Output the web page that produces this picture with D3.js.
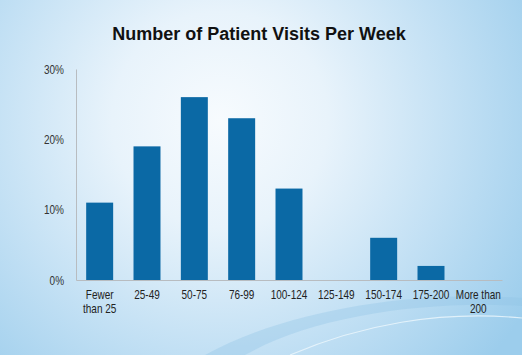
<!DOCTYPE html>
<html><head><meta charset="utf-8">
<script src="https://cdn.jsdelivr.net/npm/d3@7"></script>
<style>html,body{margin:0;padding:0;overflow:hidden;}svg{display:block;}</style>
</head><body>
<script>
const categories = ["Fewer than 25","25-49","50-75","76-99","100-124","125-149","150-174","175-200","More than 200"];
const categoryLines = [["Fewer","than 25"],["25-49"],["50-75"],["76-99"],["100-124"],["125-149"],["150-174"],["175-200"],["More than","200"]];
const values = [11,19,26,23,13,0,6,2,0];
const yTicks = [0,10,20,30];
const title = "Number of Patient Visits Per Week";

const W = 522, H = 355;
const svg = d3.select("body").append("svg").attr("width", W).attr("height", H);
const defs = svg.append("defs");
const rg = defs.append("radialGradient").attr("id","bg")
  .attr("gradientUnits","userSpaceOnUse").attr("cx",220).attr("cy",120).attr("r",360)
  .attr("fx",220).attr("fy",120);
rg.append("stop").attr("offset",0).attr("stop-color","#f7fbfe");
rg.append("stop").attr("offset",0.3).attr("stop-color","#e8f3fb");
rg.append("stop").attr("offset",0.65).attr("stop-color","#c2e0f4");
rg.append("stop").attr("offset",1).attr("stop-color","#9ccdec");
svg.append("rect").attr("width",W).attr("height",H).attr("fill","url(#bg)");

// decorative swoosh
svg.append("path").attr("d","M205,355 C290,308 420,290 522,298 L522,306 C420,300 310,318 245,355 Z")
  .attr("fill","#8fc3e6").attr("opacity",0.35);
svg.append("path").attr("d","M290,355 C360,325 440,310 522,318").attr("fill","none")
  .attr("stroke","#eef7fd").attr("stroke-width",1.2).attr("opacity",0.8);

const m = {left:76, right:20, top:69, bottom:75};
const x = d3.scaleBand().domain(categories).range([m.left, W - m.right]).paddingInner(0.43).paddingOuter(0.215);
const y = d3.scaleLinear().domain([0,30]).range([H - m.bottom, m.top]);
const font = "Liberation Sans, Arial, sans-serif";
const sx = 0.8;

svg.append("text").attr("x", 259).attr("y", 40).attr("text-anchor","middle")
  .attr("font-family",font).attr("font-weight","bold")
  .attr("font-size",18).attr("fill","#111").text(title);

const yAxis = svg.append("g").attr("transform",`translate(${m.left},0)`)
  .call(d3.axisLeft(y).tickValues(yTicks).tickFormat(d => d + "%").tickSize(0).tickPadding(12));
yAxis.select(".domain").attr("stroke","#b8bcc0");
yAxis.selectAll("text").attr("font-family",font).attr("font-size",12.5).attr("fill","#333")
  .attr("x", -12 / sx).attr("transform",`scale(${sx},1)`);

svg.selectAll("rect.bar").data(values).join("rect").attr("class","bar")
  .attr("x",(d,i)=>x(categories[i])).attr("width",x.bandwidth())
  .attr("y",d=>y(d)).attr("height",d=>y(0)-y(d)).attr("fill","#0b69a5");

const xAxis = svg.append("g").attr("transform",`translate(0,${y(0)})`)
  .call(d3.axisBottom(x).tickSize(0).tickFormat(""));
xAxis.select(".domain").attr("stroke","#b8bcc0");
xAxis.selectAll(".tick").each(function(d,i){
  const t = d3.select(this).append("text").attr("fill","#222")
    .attr("font-family",font).attr("font-size",12.5).attr("text-anchor","middle")
    .attr("transform",`scale(${sx},1)`);
  categoryLines[i].forEach((ln,j)=>{
    t.append("tspan").attr("x",0).attr("y",19.5 + j*14).text(ln);
  });
});
</script>
</body></html>
